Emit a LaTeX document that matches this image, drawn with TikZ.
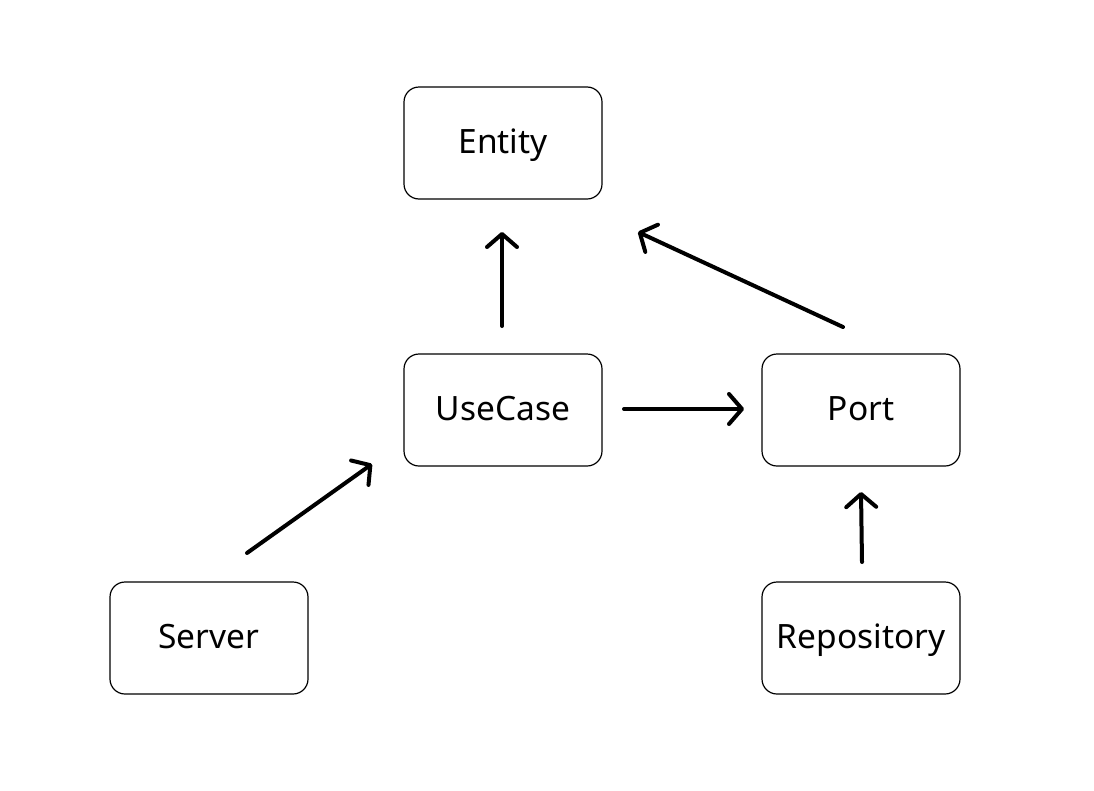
\documentclass[tikz,border=0pt]{standalone}
\usepackage{fontspec}
\setmainfont{Noto Sans}
\usetikzlibrary{arrows.meta}
\begin{document}
\begin{tikzpicture}[x=1pt,y=-1pt,
  box/.style={draw=black, line width=1.2pt, rounded corners=15pt, minimum width=198pt, minimum height=112pt, inner sep=0pt, text height=24pt, text depth=4pt, font=\fontsize{33.5}{40}\selectfont, fill=white},
  dep/.style={line width=4pt, line cap=round, -{Straight Barb[length=13pt,width=30pt,line cap=round,line join=round]}}]
\useasboundingbox[fill=white] (0,0) rectangle (1094,790);
\node[box] (entity) at (503,143) {Entity};
\node[box] (usecase) at (503,410) {UseCase};
\node[box] (port) at (861,410) {Port};
\node[box] (server) at (209,638) {Server};
\node[box] (repo) at (861,638) {Repository};
% connector end points
\coordinate (ucTail) at (502,326);
\coordinate (entTipA) at (502,232);
\coordinate (portTailA) at (843,327);
\coordinate (entTipB) at (638,232);
\coordinate (ucTailB) at (624,409);
\coordinate (portTipA) at (744,409);
\coordinate (srvTail) at (247,553);
\coordinate (ucTip) at (372,464);
\coordinate (repoTail) at (862,562);
\coordinate (portTipB) at (861,492);
\draw[dep] (ucTail) -- (entTipA);
\draw[dep] (portTailA) -- (entTipB);
\draw[dep] (ucTailB) -- (portTipA);
\draw[dep] (srvTail) -- (ucTip);
\draw[dep] (repoTail) -- (portTipB);
\end{tikzpicture}
\end{document}
